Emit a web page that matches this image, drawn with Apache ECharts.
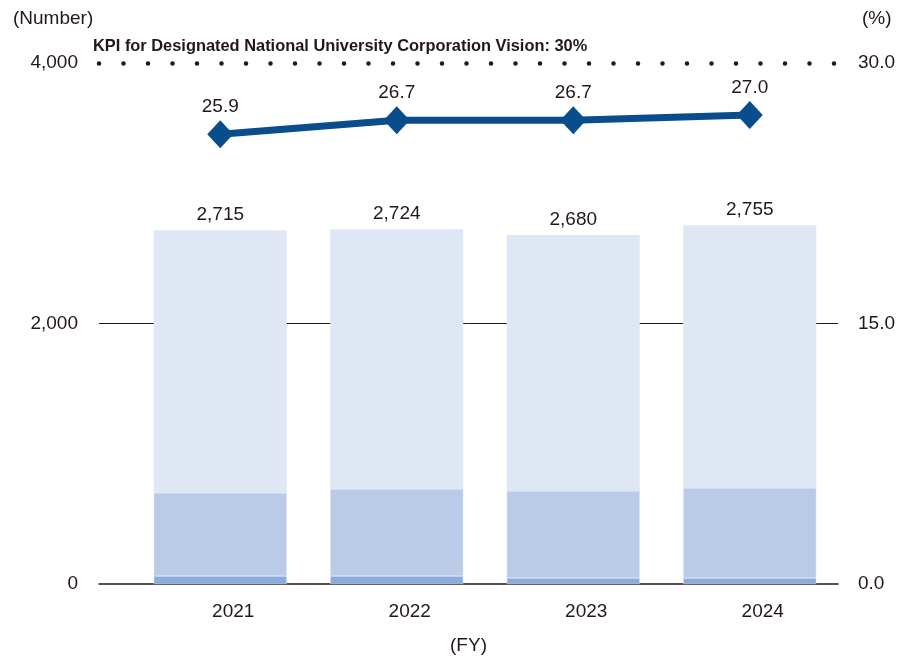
<!DOCTYPE html>
<html>
<head>
<meta charset="utf-8">
<script src="https://cdn.jsdelivr.net/npm/echarts@6/dist/echarts.min.js"></script>
<style>
  html, body { margin: 0; padding: 0; background: #fff; }
  #box { width: 909px; height: 658px; }
</style>
</head>
<body>
<div id="box"></div>
<script>
const years = ['2021', '2022', '2023', '2024']
const bottomPart = [61, 61, 46, 46]
const middlePart = [638, 668, 668, 691]
const topPart = [2016, 1995, 1966, 2018]
const totals = [2715, 2724, 2680, 2755]
const ratio = [25.9, 26.7, 26.7, 27.0]
const leftTicks = [0, 2000, 4000]
const rightTicks = [0, 15, 30]
const kpiTarget = 30

const ink = '#231815'
const font = 'Liberation Sans'
const fs = 19

const chart = echarts.init(document.getElementById('box'))

const plainText = (text, left, top, extra) => ({
  text, left, top, padding: 0,
  textStyle: Object.assign({ fontFamily: font, fontSize: fs, fontWeight: 'normal', color: ink }, extra || {})
})

chart.setOption({
  animation: false,
  textStyle: { fontFamily: font, color: ink },
  title: [
    plainText('KPI for Designated National University Corporation Vision: 30%', 93, 38, { fontSize: 16.4, fontWeight: 'bold' }),
    plainText('(Number)', 13, 9),
    plainText('(%)', 862, 9)
  ],
  grid: [
    // bars + line
    { left: 132, right: 71, top: 63, bottom: 74, outerBoundsMode: 'none' },
    // reference lines across full width
    { left: 99, right: 71, top: 63, bottom: 74, outerBoundsMode: 'none' }
  ],
  xAxis: [
    {
      type: 'category',
      gridIndex: 0,
      data: years,
      axisLine: { show: false },
      axisTick: { show: false },
      axisLabel: { fontSize: fs, color: ink, margin: 18, padding: [0, 0, 0, 26] }
    },
    {
      type: 'value',
      gridIndex: 1,
      min: 0,
      max: 1,
      name: '(FY)',
      nameLocation: 'middle',
      nameGap: 52,
      nameTextStyle: { fontSize: fs, color: ink, fontFamily: font },
      axisLine: { show: true, onZero: false, lineStyle: { color: ink, width: 1.5 } },
      axisTick: { show: false },
      axisLabel: { show: false },
      splitLine: { show: false }
    }
  ],
  yAxis: [
    {
      type: 'value',
      gridIndex: 0,
      min: leftTicks[0],
      max: leftTicks[leftTicks.length - 1],
      interval: 2000,
      axisLine: { show: false },
      axisTick: { show: false },
      axisLabel: {
        fontSize: fs,
        color: ink,
        margin: 54,
        formatter: v => v.toLocaleString('en-US')
      },
      splitLine: { show: false }
    },
    {
      type: 'value',
      gridIndex: 0,
      min: rightTicks[0],
      max: rightTicks[rightTicks.length - 1],
      interval: 15,
      axisLine: { show: false },
      axisTick: { show: false },
      axisLabel: {
        fontSize: fs,
        color: ink,
        margin: 20,
        formatter: v => v.toFixed(1)
      },
      splitLine: { show: false }
    },
    {
      type: 'value',
      gridIndex: 1,
      min: rightTicks[0],
      max: rightTicks[rightTicks.length - 1],
      interval: 15,
      axisLine: { show: false },
      axisTick: { show: false },
      axisLabel: { show: false },
      splitLine: {
        show: true,
        lineStyle: { color: ['rgba(0,0,0,0)', ink, 'rgba(0,0,0,0)'], width: 1 }
      }
    }
  ],
  series: [
    {
      name: 'bottom',
      type: 'bar',
      stack: 'total',
      barWidth: 133,
      itemStyle: { color: '#8aabdb', borderColor: '#d6e0f2', borderWidth: 0.5 },
      data: bottomPart
    },
    {
      name: 'middle',
      type: 'bar',
      stack: 'total',
      barWidth: 133,
      itemStyle: { color: '#bacbe8', borderColor: '#d6e0f2', borderWidth: 0.5 },
      data: middlePart
    },
    {
      name: 'top',
      type: 'bar',
      stack: 'total',
      barWidth: 133,
      itemStyle: { color: '#dfe6f4' },
      label: {
        show: true,
        position: 'top',
        distance: 6,
        fontSize: fs,
        color: ink,
        formatter: p => totals[p.dataIndex].toLocaleString('en-US')
      },
      data: topPart
    },
    {
      name: 'ratio',
      type: 'line',
      yAxisIndex: 1,
      symbol: 'diamond',
      symbolSize: [26, 28],
      lineStyle: { color: '#0a4d8c', width: 7 },
      itemStyle: { color: '#0a4d8c' },
      label: {
        show: true,
        position: 'top',
        distance: 4,
        fontSize: fs,
        color: ink,
        formatter: p => p.value.toFixed(1)
      },
      data: ratio,
      z: 5
    },
    {
      name: 'kpi',
      type: 'line',
      xAxisIndex: 1,
      yAxisIndex: 2,
      data: [],
      markLine: {
        silent: true,
        symbol: ['none', 'none'],
        label: { show: false },
        lineStyle: { color: ink, width: 4.5, type: [0, 24.5], cap: 'round' },
        data: [{ yAxis: kpiTarget }]
      }
    }
  ]
})
</script>
</body>
</html>
